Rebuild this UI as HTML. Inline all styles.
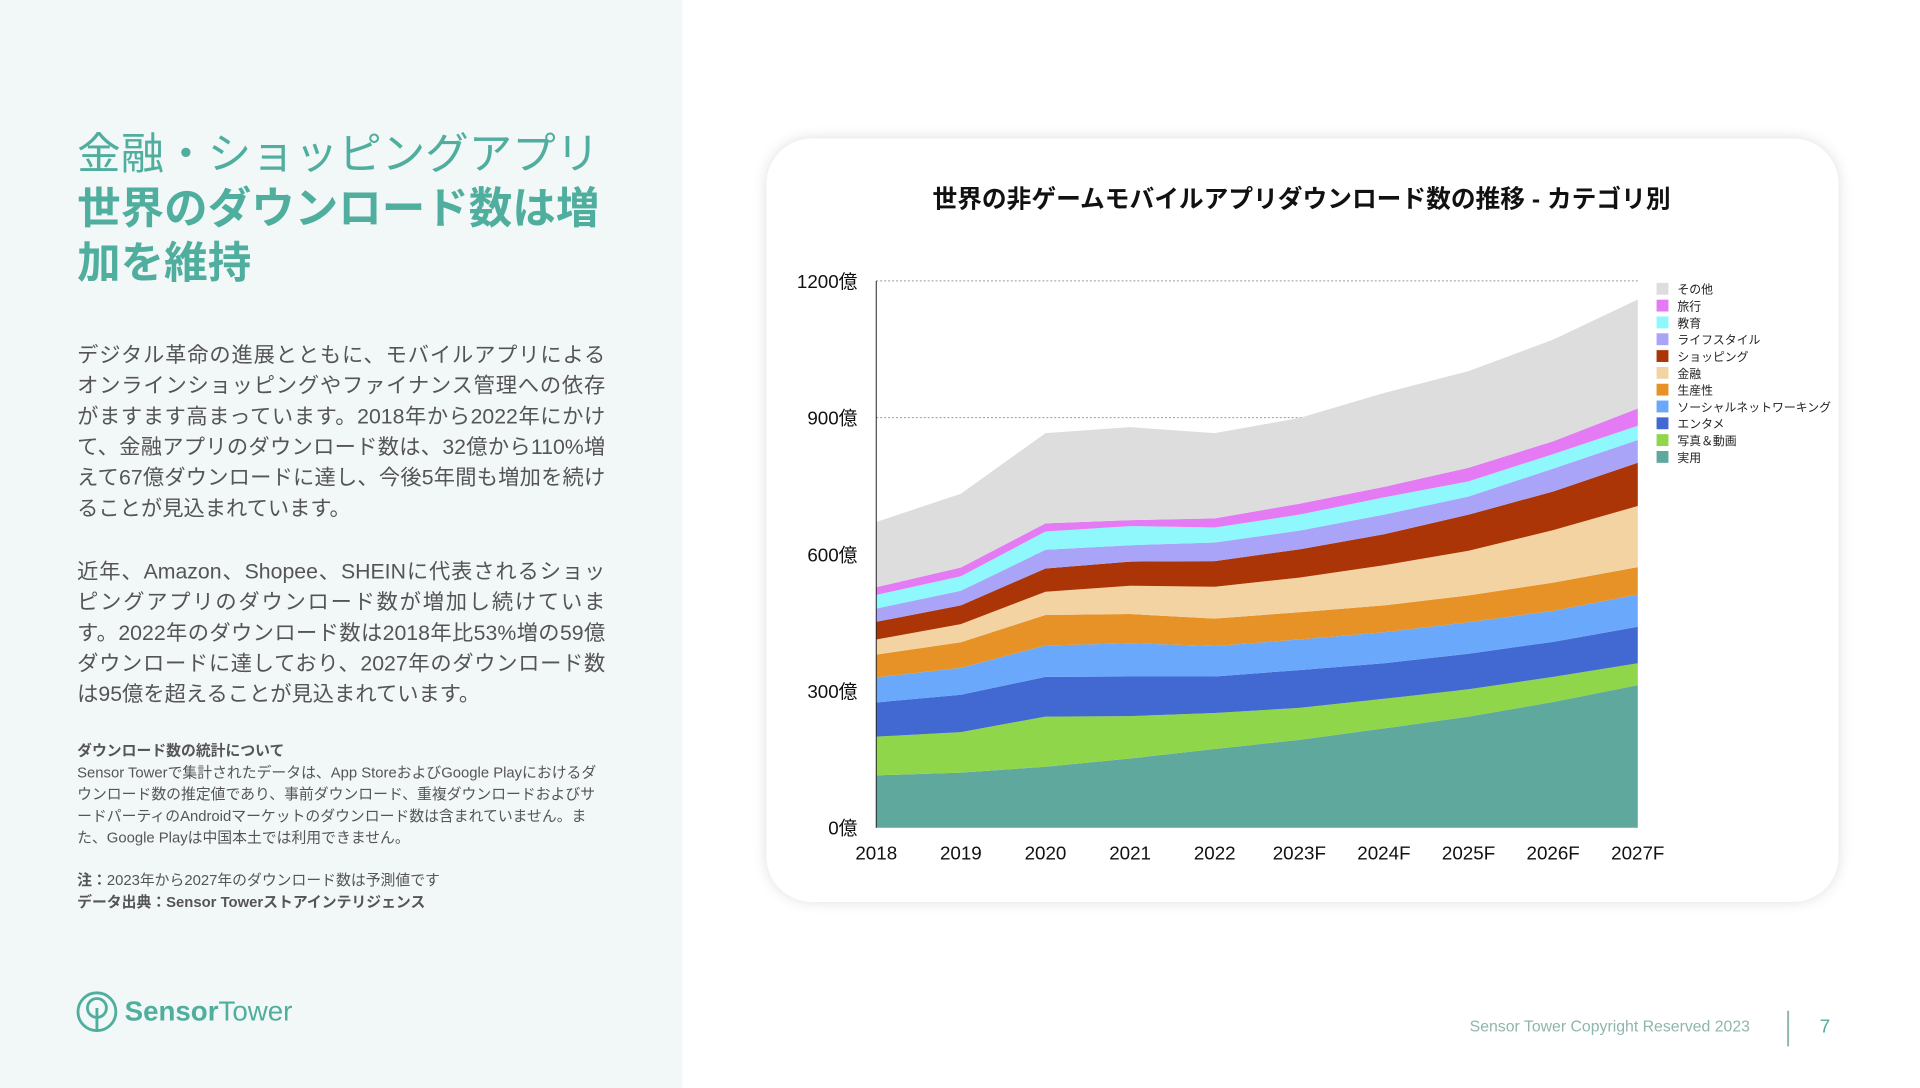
<!DOCTYPE html>
<html><head><meta charset="utf-8">
<style>
*{margin:0;padding:0;box-sizing:border-box}
body{width:1920px;height:1080px;position:relative;background:#fff;font-family:"Liberation Sans","Noto Sans CJK JP",sans-serif;overflow:hidden}
#wrap{position:absolute;left:0;top:0;width:1941px;height:1092px;transform:scale(0.989);transform-origin:0 0}
#left{position:absolute;left:0;top:0;width:690px;height:1100px;background:#f2f7f7}
.title{position:absolute;left:78px;top:129px;font-size:44px;line-height:55px;color:#4fae9e;width:560px}
.body{position:absolute;left:78px;font-size:21.5px;line-height:31px;color:#555;width:534px;text-align:justify}
.note{position:absolute;left:78px;font-size:15px;line-height:22px;color:#555;width:527px}
#card{position:absolute;left:775px;top:140px;width:1084px;height:772px;background:#fff;border-radius:46px;box-shadow:0 0 14px rgba(0,0,0,0.12)}
svg text{font-family:"Liberation Sans","Noto Sans CJK JP",sans-serif}
</style></head><body>
<div id="wrap">
<div id="left"></div>
<div class="title">金融・ショッピングアプリ<br><b>世界のダウンロード数は増加を維持</b></div>
<div class="body" style="top:344px">デジタル革命の進展とともに、モバイルアプリによるオンラインショッピングやファイナンス管理への依存がますます高まっています。2018年から2022年にかけて、金融アプリのダウンロード数は、32億から110%増えて67億ダウンロードに達し、今後5年間も増加を続けることが見込まれています。</div>
<div class="body" style="top:563px">近年、Amazon、Shopee、SHEINに代表されるショッピングアプリのダウンロード数が増加し続けています。2022年のダウンロード数は2018年比53%増の59億ダウンロードに達しており、2027年のダウンロード数は95億を超えることが見込まれています。</div>
<div class="note" style="top:749px"><b>ダウンロード数の統計について</b><br>Sensor Towerで集計されたデータは、App StoreおよびGoogle Playにおけるダウンロード数の推定値であり、事前ダウンロード、重複ダウンロードおよびサードパーティのAndroidマーケットのダウンロード数は含まれていません。また、Google Playは中国本土では利用できません。</div>
<div class="note" style="top:880px"><b>注：</b>2023年から2027年のダウンロード数は予測値です<br><b>データ出典：Sensor Towerストアインテリジェンス</b></div>
<div style="position:absolute;left:76px;top:1001px;display:flex;align-items:center;color:#4fae9e;font-size:28px;">
<svg width="44" height="44" viewBox="0 0 46 46"><circle cx="23" cy="23" r="20" fill="none" stroke="#4fae9e" stroke-width="3"/><circle cx="23" cy="19" r="10" fill="none" stroke="#4fae9e" stroke-width="3"/><line x1="23" y1="19" x2="23" y2="42" stroke="#4fae9e" stroke-width="3"/></svg>
<span style="margin-left:6px"><b>Sensor</b>Tower</span></div>
<div style="position:absolute;left:1486px;top:1030px;font-size:16px;color:#8fb5ad">Sensor Tower Copyright Reserved 2023</div>
<div style="position:absolute;left:1807px;top:1022px;width:2px;height:36px;background:#8fb5ad"></div>
<div style="position:absolute;left:1840px;top:1028px;font-size:19px;color:#4fae9e">7</div>
<div id="card"></div>
<svg id="chart" width="1941" height="1092" style="position:absolute;left:0;top:0">
<text x="1316" y="210" text-anchor="middle" font-size="25" font-weight="bold" fill="#111">世界の非ゲームモバイルアプリダウンロード数の推移 - カテゴリ別</text>
</svg>
</div>
<script>
const years=["2018","2019","2020","2021","2022","2023F","2024F","2025F","2026F","2027F"];
const yTicks=[0,300,600,900,1200];
const names=["実用","写真＆動画","エンタメ","ソーシャルネットワーキング","生産性","金融","ショッピング","ライフスタイル","教育","旅行","その他"];
const colors=["#5ea89d","#8fd64a","#4169d1","#6aa8fb","#e79227","#f3d3a2","#ab3506","#a9a4f8","#8ef8fc","#e57bf4","#dddddd"];
const s0=[115,121,134,152,173,193,218,244,276,313];
const s1=[85,89,110,93,79,70,65,60,55,48];
const s2=[75,82,87,87,80,83,78,78,77,80];
const s3=[55,59,69,73,67,67,68,69,68,71];
const s4=[50,56,67,64,60,60,59,59,62,60];
const s5=[33,40,51,62,70,76,88,98,115,134];
const s6=[39,41,51,53,56,62,68,79,85,95];
const s7=[29,32,41,36,41,41,43,40,50,50];
const s8=[30,32,40,42,33,35,38,33,32,31];
const s9=[17,19,18,13,20,24,23,30,28,38];
const s10=[143,162,198,204,187,188,206,212,223,239];
const series=[s0,s1,s2,s3,s4,s5,s6,s7,s8,s9,s10];
const svg=document.getElementById('chart');const NS="http://www.w3.org/2000/svg";
const X0=886,X1=1656,Y0=837,Y1=284;
const xs=i=>X0+(X1-X0)*i/(years.length-1);
const ys=v=>Y0-(Y0-Y1)*v/1200;
function mk(t,a){const e=document.createElementNS(NS,t);for(const k in a)e.setAttribute(k,a[k]);svg.appendChild(e);return e;}
yTicks.forEach(v=>{
 if(v>0){const g=mk('line',{x1:X0,x2:X1,y1:ys(v),y2:ys(v),stroke:'#999','stroke-dasharray':'2,2','stroke-width':1});
 
 }
 const t=mk('text',{x:867,y:ys(v)+7,'text-anchor':'end','font-size':19,fill:'#111'});t.textContent=v+'億';
 
 
});
let base=years.map(()=>0);
series.forEach((s,k)=>{
 const top=base.map((b,i)=>b+s[i]);
 let d='M'+years.map((_,i)=>xs(i)+','+ys(top[i])).join('L');
 for(let i=years.length-1;i>=0;i--)d+='L'+xs(i)+','+ys(base[i]);
 const p=mk('path',{d:d+'Z',fill:colors[k]});
 
 
 base=top;
});
const ax=mk('line',{x1:X0,x2:X0,y1:Y1,y2:Y0,stroke:'#222','stroke-width':1});


years.forEach((y,i)=>{const t=mk('text',{x:xs(i),y:869,'text-anchor':'middle','font-size':19,fill:'#111'});t.textContent=y;
 
 });
for(let k=names.length-1,j=0;k>=0;k--,j++){
 const yy=286+j*17;
 const r=mk('rect',{x:1675,y:yy,width:12,height:12,fill:colors[k]});
 
 
 const t=mk('text',{x:1696,y:yy+11,'font-size':12,fill:'#222'});t.textContent=names[k];
 
 
}
</script>
</body></html>
